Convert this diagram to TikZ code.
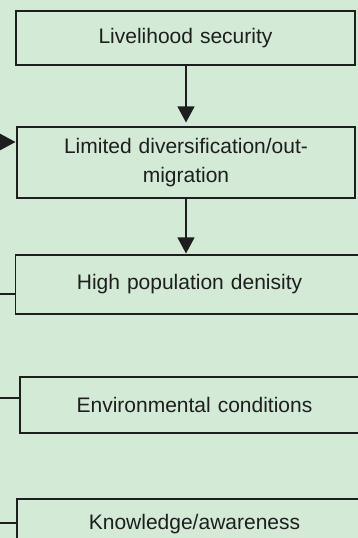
\documentclass[tikz,border=0pt]{standalone}
\usepackage{fontspec}
\setmainfont{Liberation Sans}
\usetikzlibrary{arrows.meta}
\definecolor{bggreen}{RGB}{210,234,214}
\definecolor{ink}{RGB}{30,30,30}
\newcommand\flowfont{\fontsize{21}{30}\selectfont\spaceskip 7pt\relax}
\begin{document}
\begin{tikzpicture}[x=1pt,y=-1pt,
    box/.style={draw=ink,line width=1.1pt,text=ink,inner sep=0pt,align=center,font=\flowfont},
    arr/.style={draw=ink,line width=1.1pt,-{Triangle[width=17pt,length=16pt]}}]
    \useasboundingbox (0,0) rectangle (358,538);
    \clip (0,0) rectangle (358,538);
    \fill[bggreen] (0,0) rectangle (358,538);
    \node[box,minimum width=339pt,minimum height=54pt] (live) at (185.5,38) {Livelihood security};
    \node[box,minimum width=338pt,minimum height=71pt] (divers) at (186,162.5) {Limited diversification/out-\\[-1pt]migration};
    \node[box,minimum width=348pt,minimum height=59pt] (popn) at (189.5,284.5) {High population denisity};
    \node[box,minimum width=349pt,minimum height=56pt] (envir) at (194.5,405) {Environmental conditions};
    \node[box,minimum width=355pt,minimum height=50pt] (know) at (194.5,524) {Knowledge/awareness};
    \coordinate (inA) at (-10,142);
    \coordinate (inB) at (-10,294);
    \coordinate (inC) at (-10,398);
    \coordinate (inD) at (-10,523);
    \draw[arr,shorten >=4pt] (live.south -| divers.north) -- (divers.north);
    \draw[arr,shorten >=1pt] (divers.south) -- (divers.south |- popn.north);
    \draw[arr,shorten >=1pt] (inA) -- (inA -| divers.west);
    \draw[draw=ink,line width=1.1pt] (inB) -- (inB -| popn.west) (inC) -- (inC -| envir.west) (inD) -- (inD -| know.west);
\end{tikzpicture}
\end{document}
